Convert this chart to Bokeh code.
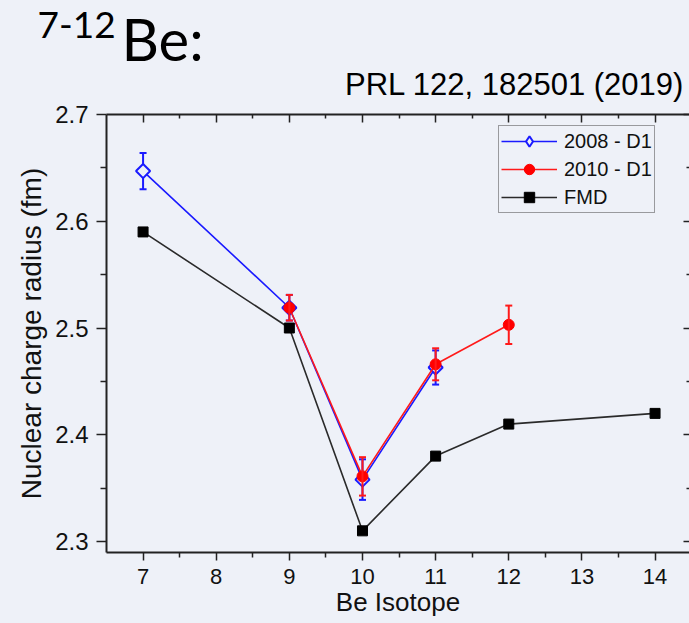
import numpy as np
from bokeh.plotting import figure
from bokeh.layouts import column
from bokeh.models import (Range1d, LinearAxis, Whisker, TeeHead, ColumnDataSource,
                          Legend, LegendItem, FixedTicker)
from bokeh.core.properties import value
from bokeh.embed import file_html
from bokeh.resources import INLINE

# ---- data ----
iso_2008 = [7, 9, 10, 11]
r_2008 = [2.647, 2.519, 2.358, 2.463]
e_2008 = [0.017, 0.012, 0.019, 0.016]

iso_2010 = [9, 10, 11, 12]
r_2010 = [2.519, 2.361, 2.466, 2.503]
e_2010 = [0.012, 0.018, 0.015, 0.018]

iso_fmd = [7, 9, 10, 11, 12, 14]
r_fmd = [2.59, 2.50, 2.31, 2.38, 2.41, 2.42]

x_ticks = [7, 8, 9, 10, 11, 12, 13, 14]
y_ticks = [2.3, 2.4, 2.5, 2.6, 2.7]

heading_sup = "7-12"
heading_main = "Be:"
reference_note = "PRL 122, 182501 (2019)"

BG = "#eef1f8"
AX = "#222222"
FONT = "Liberation Sans"
HEAD_H = 102

# ---- heading strip (slide text above the chart); data units = pixels ----
top = figure(width=689, height=HEAD_H, output_backend="svg", toolbar_location=None,
             x_range=Range1d(0, 689), y_range=Range1d(HEAD_H, 0),
             min_border=0, x_axis_location=None, y_axis_location=None)
top.frame_align = False
top.background_fill_color = BG
top.border_fill_color = BG
top.outline_line_color = None
top.xgrid.visible = False
top.ygrid.visible = False
top.text(x=[37], y=[24.5], text=[heading_sup], text_font=value("Lato"),
         text_font_size=value("37px"), text_color="black",
         text_align="left", text_baseline=value("middle"))
top.text(x=[121], y=[38], text=[heading_main], text_font=value("Lato"),
         text_font_size=value("58px"), text_color="black",
         text_align="left", text_baseline=value("middle"))
top.text(x=[684], y=[84.3], text=[reference_note], text_font=value(FONT),
         text_font_size=value("31px"), text_color="black",
         text_align="right", text_baseline=value("middle"))

# ---- main chart ----
p = figure(width=689, height=623 - HEAD_H, output_backend="svg", toolbar_location=None,
           x_range=Range1d(6.5, 14.471), y_range=Range1d(2.2897, 2.7),
           min_border_left=106, min_border_right=0, min_border_top=114 - HEAD_H,
           min_border_bottom=71, x_axis_location=None, y_axis_location=None)
p.frame_align = False
p.background_fill_color = BG
p.border_fill_color = BG
p.outline_line_color = None
p.xgrid.visible = False
p.ygrid.visible = False

x_minor = [(a + b) / 2 for a, b in zip(x_ticks[:-1], x_ticks[1:])] + [x_ticks[-1] + 0.5]
y_minor = [(a + b) / 2 for a, b in zip(y_ticks[:-1], y_ticks[1:])]


def style(ax, labels=True):
    ax.axis_line_color = AX
    ax.axis_line_width = 2
    ax.major_tick_line_color = AX
    ax.minor_tick_line_color = AX
    ax.major_tick_line_width = 1.5
    ax.minor_tick_line_width = 1.5
    if not labels:
        ax.major_label_text_font_size = "0px"
        ax.major_label_standoff = 0
        ax.major_tick_out = 0
        ax.minor_tick_out = 0


xb = LinearAxis(ticker=FixedTicker(ticks=x_ticks, minor_ticks=x_minor))
style(xb)
xb.major_tick_out = 8
xb.major_tick_in = 0
xb.minor_tick_out = 5
xb.minor_tick_in = 0
xb.major_label_text_font = FONT
xb.major_label_text_font_size = "22px"
xb.major_label_text_color = "#111111"
xb.major_label_standoff = 8
xb.axis_label = "Be Isotope"
xb.axis_label_text_font = FONT
xb.axis_label_text_font_style = "normal"
xb.axis_label_text_font_size = "26px"
xb.axis_label_text_color = "#111111"
xb.axis_label_standoff = 0
p.add_layout(xb, "below")

yl = LinearAxis(ticker=FixedTicker(ticks=y_ticks, minor_ticks=y_minor))
style(yl)
yl.major_tick_out = 10
yl.major_tick_in = 0
yl.minor_tick_out = 6
yl.minor_tick_in = 0
yl.major_label_text_font = FONT
yl.major_label_text_font_size = "24px"
yl.major_label_text_color = "#111111"
yl.major_label_standoff = 8
yl.axis_label = "Nuclear charge radius (fm)"
yl.axis_label_text_font = FONT
yl.axis_label_text_font_style = "normal"
yl.axis_label_text_font_size = "28px"
yl.axis_label_text_color = "#111111"
yl.axis_label_standoff = 5
p.add_layout(yl, "left")

xt = LinearAxis(ticker=FixedTicker(ticks=x_ticks, minor_ticks=x_minor))
style(xt, labels=False)
xt.major_tick_in = 8
xt.minor_tick_in = 4
p.add_layout(xt, "above")

yr = LinearAxis(ticker=FixedTicker(ticks=y_ticks, minor_ticks=y_minor))
style(yr, labels=False)
yr.axis_line_color = None
yr.major_tick_in = 6
yr.minor_tick_in = 3
p.add_layout(yr, "right")

# ---- sources ----
src08 = ColumnDataSource(dict(x=iso_2008, y=r_2008,
                              lo=[v - e for v, e in zip(r_2008, e_2008)],
                              hi=[v + e for v, e in zip(r_2008, e_2008)]))
src10 = ColumnDataSource(dict(x=iso_2010, y=r_2010,
                              lo=[v - e for v, e in zip(r_2010, e_2010)],
                              hi=[v + e for v, e in zip(r_2010, e_2010)]))
srcf = ColumnDataSource(dict(x=iso_fmd, y=r_fmd))

BLUE = "#1a1aff"
RED = "#ff1a1a"
BLACK = "#2a2a2a"

# FMD
lf = p.line("x", "y", source=srcf, line_color=BLACK, line_width=1.6)
sf = p.scatter("x", "y", source=srcf, marker="square", size=10,
               fill_color="black", line_color="black")

# 2008 - D1
w08 = Whisker(source=src08, base="x", lower="lo", upper="hi", line_color=BLUE,
              line_width=2,
              upper_head=TeeHead(size=7, line_color=BLUE, line_width=2),
              lower_head=TeeHead(size=7, line_color=BLUE, line_width=2))
p.add_layout(w08)
l08 = p.line("x", "y", source=src08, line_color=BLUE, line_width=1.6)
# diamond symbol used for the legend key (hidden under the open markers below)
s08_key = p.scatter("x", "y", source=src08, marker="diamond", size=12,
                    fill_color=BG, line_color=BLUE, line_width=2)
s08 = p.scatter("x", "y", source=src08, marker="square", angle=np.pi / 4, size=10,
                fill_color=BG, line_color=BLUE, line_width=2)

# 2010 - D1
l10 = p.line("x", "y", source=src10, line_color=RED, line_width=1.6)
s10 = p.scatter("x", "y", source=src10, marker="circle", size=11,
                fill_color="red", line_color="red")
w10 = Whisker(source=src10, base="x", lower="lo", upper="hi", line_color=RED,
              line_width=2, level="overlay",
              upper_head=TeeHead(size=7, line_color=RED, line_width=2),
              lower_head=TeeHead(size=7, line_color=RED, line_width=2))
p.add_layout(w10)

legend = Legend(items=[
    LegendItem(label="2008 - D1", renderers=[l08, s08_key]),
    LegendItem(label="2010 - D1", renderers=[l10, s10]),
    LegendItem(label="FMD", renderers=[lf, sf]),
], location=(392, 339))
legend.label_text_font = FONT
legend.label_text_font_size = "20px"
legend.label_text_color = "#111111"
legend.glyph_width = 56
legend.glyph_height = 26
legend.label_height = 22
legend.spacing = 2
legend.padding = 2
legend.label_standoff = 7
legend.border_line_color = "#444444"
legend.border_line_width = 1.5
legend.background_fill_alpha = 0
legend.margin = 0
p.add_layout(legend)

layout = column(top, p, spacing=0, styles={"background-color": BG})
open("out.html", "w").write(file_html(layout, INLINE))
